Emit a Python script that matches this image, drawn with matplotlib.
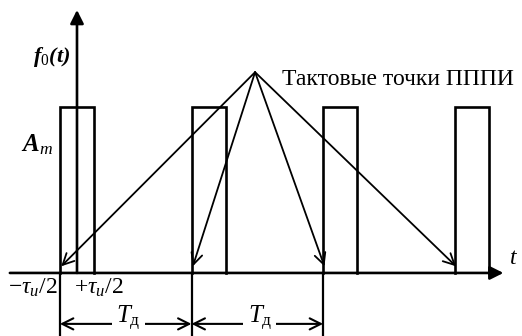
import matplotlib.pyplot as plt

plt.rcParams['font.family'] = ['Liberation Serif', 'DejaVu Serif']
plt.rcParams['mathtext.fontset'] = 'custom'
plt.rcParams['mathtext.rm'] = 'Liberation Serif'
plt.rcParams['mathtext.it'] = 'Liberation Serif:italic'
plt.rcParams['mathtext.bf'] = 'Liberation Serif:bold:italic'

# период дискретизации T = 1, длительность импульса tau, амплитуда A
T = 1.0
tau = 0.26
A = 1.0
pulse_index = [0, 1, 2, 3]
# тактовые точки - левые фронты импульсов
clock_index = [0, 1, 2, 3]
dim_index = [0, 1]
# точка, из которой расходятся стрелки к тактовым точкам
apex = (1.353, 1.21)
caption = 'Тактовые точки ПППИ'

fig = plt.figure(figsize=(5.22, 3.36), dpi=100)
ax = fig.add_axes([0, 0, 1, 1])
ax.set_xlim(-0.585, 3.381)
ax.set_ylim(-0.380, 1.645)
ax.axis('off')

lw = 1.9
# оси
ax.annotate('', xy=(3.24, 0), xytext=(-0.51, 0),
            arrowprops=dict(arrowstyle='-|>', lw=lw, color='black',
                            mutation_scale=20, shrinkA=0, shrinkB=0))
ax.annotate('', xy=(0, 1.585), xytext=(0, 0),
            arrowprops=dict(arrowstyle='-|>', lw=lw, color='black',
                            mutation_scale=20, shrinkA=0, shrinkB=0))

# импульсы
for k in pulse_index:
    left = k * T - tau / 2
    right = k * T + tau / 2
    ax.plot([left, left, right, right], [0, A, A, 0], color='black', lw=lw,
            solid_joinstyle='miter')

# выносные линии под осью
for k in dim_index + [dim_index[-1] + 1]:
    x = k * T - tau / 2
    ax.plot([x, x], [0, -0.38], color='black', lw=1.6)

# стрелки к тактовым точкам
for k in clock_index:
    x = k * T - tau / 2
    ax.annotate('', xy=(x + 0.01, 0.04), xytext=apex,
                arrowprops=dict(arrowstyle='->', lw=1.3, color='black',
                                mutation_scale=20, shrinkA=0, shrinkB=0))
ax.text(1.558, 1.163, caption, fontsize=17, ha='left', va='center')

# размерные линии T_д
y_dim = -0.307
for k in dim_index:
    x0 = k * T - tau / 2
    x1 = x0 + T
    ax.annotate('', xy=(x1, y_dim), xytext=(x0, y_dim),
                arrowprops=dict(arrowstyle='<->', lw=1.5, color='black',
                                mutation_scale=20, shrinkA=0, shrinkB=0))
    ax.text((x0 + x1) / 2 + 0.02, y_dim + 0.03, r'$T_{\mathrm{д}}$', fontsize=18,
            ha='center', va='center',
            bbox=dict(facecolor='white', edgecolor='none', pad=3))

# подписи
ax.text(-0.05, 1.30, r'$\mathbf{f}_{0}\mathbf{(t)}$', fontsize=16,
        ha='right', va='center')
ax.text(-0.18, 0.77, r'$\mathbf{A}_{m}$', fontsize=18, ha='right', va='center')
ax.text(-0.334, -0.09, r'$-\tau_{и}/2$', fontsize=17, ha='center', va='center')
ax.text(0.165, -0.09, r'$+\tau_{и}/2$', fontsize=17, ha='center', va='center')
ax.text(3.32, 0.09, r'$t$', fontsize=17, ha='center', va='center')

fig.savefig('out.png', dpi=100)
